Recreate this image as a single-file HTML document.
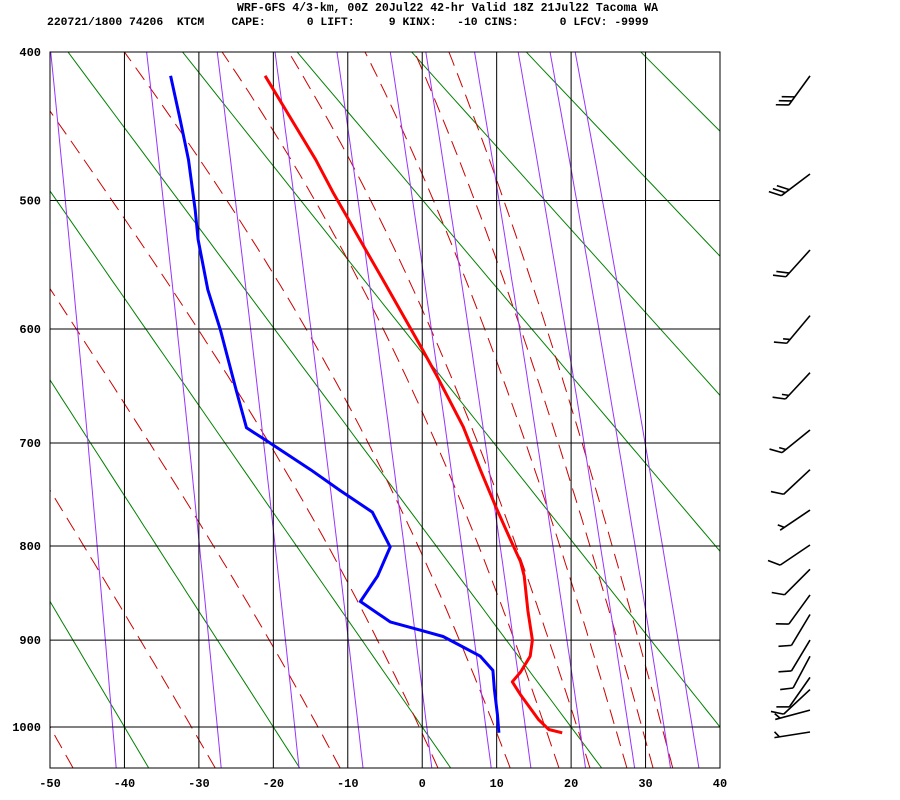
<!DOCTYPE html>
<html><head><meta charset="utf-8"><style>
html,body{margin:0;padding:0;background:#fff;}
svg{display:block;}
text{font-family:"Liberation Mono",monospace;font-weight:bold;fill:#000;}
</style></head><body>
<svg id="chart" width="900" height="800" xmlns="http://www.w3.org/2000/svg">
<text x="237" y="11" font-size="11.5" style="white-space:pre">WRF-GFS 4/3-km, 00Z 20Jul22 42-hr Valid 18Z 21Jul22 Tacoma WA</text>
<text x="47" y="25" font-size="11.4" xml:space="preserve" style="white-space:pre">220721/1800 74206  KTCM    CAPE:      0 LIFT:     9 KINX:   -10 CINS:      0 LFCV: -9999</text>
<defs><clipPath id="plotclip"><rect x="50" y="52" width="670" height="716"/></clipPath></defs>
<g id="bg" clip-path="url(#plotclip)"></g>
<g id="grid"></g>
<g id="snd"></g>
<g id="wind"></g>
<g id="labels"></g>
</svg>
<script>
// ---- data ----
const tempP = [1007,1003,991,962,947,936,918,900,868,831,816,791,761,725,685,639,618,597,563,526,512,494,471,415];
const tempT = [18.8,17.0,15.6,13.2,12.1,13.2,14.5,14.8,14.2,13.7,13.2,11.7,9.9,7.8,5.5,1.9,0.1,-1.8,-5.0,-8.7,-10.1,-12.0,-14.3,-21.1];
const dewP = [1007,985,956,934,918,906,896,889,880,858,831,801,766,745,725,697,686,652,601,568,529,507,471,444,415];
const dewT = [10.3,10.1,9.7,9.5,7.8,5.1,2.8,-0.3,-4.3,-8.3,-6.0,-4.3,-6.7,-11.0,-15.0,-21.1,-23.6,-25.0,-27.1,-28.8,-30.1,-30.5,-31.4,-32.5,-33.8];
const windP = [415,481,537,589,637,688,725,764,799,824,851,872,900,918,942,956,980,1006];
const windDir = [216,233,222,220,223,231,227,236,236,225,216,211,211,208,215,227,255,261];
const windSpd = [30,30,20,15,15,15,10,5,10,10,10,10,10,10,10,10,5,5];
const pressureTicks = [400,500,600,700,800,900,1000];
const tempTicks = [-50,-40,-30,-20,-10,0,10,20,30,40];
const dryThetaC = [-40,-20,0,20,40,60,80,100,120,140];
const moistT1000 = [-50,-31,-14,-0.4,9.7,16.5,20.8,25.9,29.5,32.2];
const mixRatios = [0.1,0.4,1,2,4,7,10,16,24,32,40];

// ---- axes ----
const K=0.286, X0=50, X1=720, Y0=52, Y1=768;
const A=Math.pow(400,K), B=Math.pow(1000,K);
function xT(t){return X0+(t+50)*(X1-X0)/90;}
function yP(p){return Y0+675*(Math.pow(p,K)-A)/(B-A);}
const pBot=Math.pow(A+(Y1-Y0)*(B-A)/675,1/K);
const NS="http://www.w3.org/2000/svg";
function mk(tag,attrs,parent){const e=document.createElementNS(NS,tag);for(const k in attrs)e.setAttribute(k,attrs[k]);parent.appendChild(e);return e;}
function ptsStr(arr){return arr.map(a=>a[0].toFixed(1)+","+a[1].toFixed(1)).join(" ");}
const bg=document.getElementById('bg'),grid=document.getElementById('grid'),snd=document.getElementById('snd'),wind=document.getElementById('wind'),labels=document.getElementById('labels');

// dry adiabats
dryThetaC.forEach(th=>{
  const pts=[];
  for(let p=pBot;p>=395;p-=10){const T=(th+273.15)*Math.pow(p/1000,K)-273.15;pts.push([xT(T),yP(p)]);}
  const el=mk('polyline',{points:ptsStr(pts),fill:'none',stroke:'#008000','stroke-width':1},bg);
  
  
});
// moist adiabats
function es(t){return 6.112*Math.exp(17.67*t/(t+243.5));}
function dTdp(p,t){const Tk=t+273.15,e=es(t),rs=0.622*e/(p-e),Lv=2.5e6,Rd=287,cp=1004;
  return (1/p)*(Rd*Tk+Lv*rs)/(cp+Lv*Lv*rs*0.622/(Rd*Tk*Tk));}
moistT1000.forEach(t0=>{
  const up=[],dn=[];let t=t0;
  for(let p=1000;p>=395;p-=5){up.push([xT(t),yP(p)]);t-=dTdp(p,t)*5;}
  t=t0;for(let p=1000;p<=pBot+5;p+=5){dn.push([xT(t),yP(p)]);t+=dTdp(p,t)*5;}
  const pts=dn.reverse().concat(up.slice(1));
  const el=mk('polyline',{points:ptsStr(pts),fill:'none',stroke:'#cc0000','stroke-width':1,'stroke-dasharray':'15,8'},bg);
  
  
});
// mixing ratio lines
mixRatios.forEach(w=>{
  const pts=[];
  for(let p=pBot;p>=395;p-=10){const e=w*p/(622+w),l=Math.log(e/6.112),td=243.5*l/(17.67-l);pts.push([xT(td),yP(p)]);}
  const el=mk('polyline',{points:ptsStr(pts),fill:'none',stroke:'#9933ff','stroke-width':1},bg);
  
  
});
// grid
tempTicks.forEach(t=>{
  const el=mk('line',{x1:xT(t),x2:xT(t),y1:Y0,y2:Y1,stroke:'#000','stroke-width':1},grid);
  
  
  const lb=mk('text',{x:xT(t),y:787,'font-size':12,'text-anchor':'middle'},labels);
  lb.textContent=t;
  
  
});
pressureTicks.forEach(p=>{
  const el=mk('line',{x1:X0,x2:X1,y1:yP(p),y2:yP(p),stroke:'#000','stroke-width':1},grid);
  
  
  const lb=mk('text',{x:41,y:yP(p)+4,'font-size':12,'text-anchor':'end'},labels);
  lb.textContent=p;
  
  
});
const frame=mk('rect',{x:X0,y:Y0,width:X1-X0,height:Y1-Y0,fill:'none',stroke:'#000','stroke-width':1},grid);


// soundings
const tl=mk('polyline',{points:ptsStr(tempP.map((p,i)=>[xT(tempT[i]),yP(p)])),fill:'none',stroke:'#ff0000','stroke-width':3,'stroke-linejoin':'round'},snd);


const dl=mk('polyline',{points:ptsStr(dewP.map((p,i)=>[xT(dewT[i]),yP(p)])),fill:'none',stroke:'#0000ff','stroke-width':3,'stroke-linejoin':'round'},snd);


// wind barbs
windP.forEach((p,i)=>{
  const sx=810,sy=yP(p),L=36,a=windDir[i]*Math.PI/180;
  const ux=Math.sin(a),uy=-Math.cos(a);
  const tx=sx+ux*L,ty=sy+uy*L;
  const g=mk('g',{stroke:'#000','stroke-width':1.6,fill:'none'},wind);
  
  
  mk('line',{x1:sx,y1:sy,x2:tx,y2:ty},g);
  const ang=Math.atan2(uy,ux)+55*Math.PI/180,bx=Math.cos(ang),by=Math.sin(ang);
  let s=windSpd[i],k=0;
  while(s>=10){const px=tx-ux*k*5,py=ty-uy*k*5;mk('line',{x1:px,y1:py,x2:px+bx*13,y2:py+by*13},g);s-=10;k++;}
  if(s>=5){if(k===0)k=1;const px=tx-ux*k*5,py=ty-uy*k*5;mk('line',{x1:px,y1:py,x2:px+bx*7,y2:py+by*7},g);}
});
</script>
</body></html>
